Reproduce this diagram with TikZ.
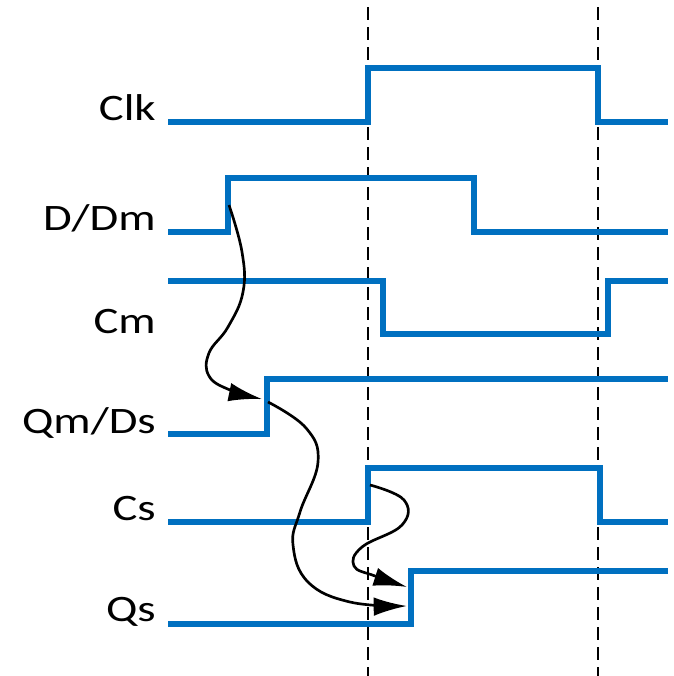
\documentclass[tikz,border=0pt]{standalone}
\usepackage{fontspec}
\newfontfamily\labfont[FakeStretch=1.25]{Carlito}
\usetikzlibrary{arrows.meta}
\definecolor{sigblue}{RGB}{0,112,192}
\begin{document}
\begin{tikzpicture}[x=0.75pt,y=-0.75pt,
  sig/.style={draw=sigblue,line width=4.3pt,line join=miter},
  edgeline/.style={draw=black,line width=1.9pt,dash pattern=on 10pt off 5pt},
  lab/.style={anchor=base east,inner sep=0pt,font=\labfont\fontsize{28}{32}\selectfont},
  causal/.style={draw=black,line width=2pt,-{Latex[length=25pt,width=14pt]}}]
\useasboundingbox (0,0) rectangle (674,676);
% dashed clock edges
\draw[edgeline] (368,7) -- (368,676);
\draw[edgeline] (598,7) -- (598,676);
% labels
\node[lab] (lclk) at (156,120) {Clk};
\node[lab] (ld) at (156,230) {D/Dm};
\node[lab] (lcm) at (156,333) {Cm};
\node[lab] (lqm) at (156,433) {Qm/Ds};
\node[lab] (lcs) at (156,520) {Cs};
\node[lab] (lqs) at (156,621) {Qs};
% waveforms
\draw[sig] (168,122) -- (368,122) -- (368,68) -- (598,68) -- (598,122) -- (668,122);
\draw[sig] (168,232) -- (228,232) -- (228,178) -- (474,178) -- (474,232) -- (668,232);
\draw[sig] (168,281) -- (383,281) -- (383,334) -- (608,334) -- (608,281) -- (668,281);
\draw[sig] (168,434) -- (267,434) -- (267,379) -- (668,379);
\draw[sig] (168,522) -- (368,522) -- (368,468) -- (600,468) -- (600,522) -- (668,522);
\draw[sig] (168,624) -- (411,624) -- (411,571) -- (668,571);
% causality arrows
\coordinate (d0) at (229,205);
\coordinate (qm1) at (262,399);
\coordinate (qm0) at (268,402);
\coordinate (qs1) at (407,606);
\coordinate (cs0) at (370,485);
\coordinate (qs2) at (407,587);
\draw[causal] plot[smooth,tension=0.7] coordinates {(d0) (242,252) (243,292) (228,327) (209,353) (209,376) (230,390) (qm1)};
\draw[causal] plot[smooth,tension=0.7] coordinates {(qm0) (306,428) (318,462) (300,512) (293,545) (308,582) (350,602) (qs1)};
\draw[causal] plot[smooth,tension=0.7] coordinates {(cs0) (404,500) (402,525) (362,547) (354,566) (375,576) (qs2)};
\end{tikzpicture}
\end{document}
